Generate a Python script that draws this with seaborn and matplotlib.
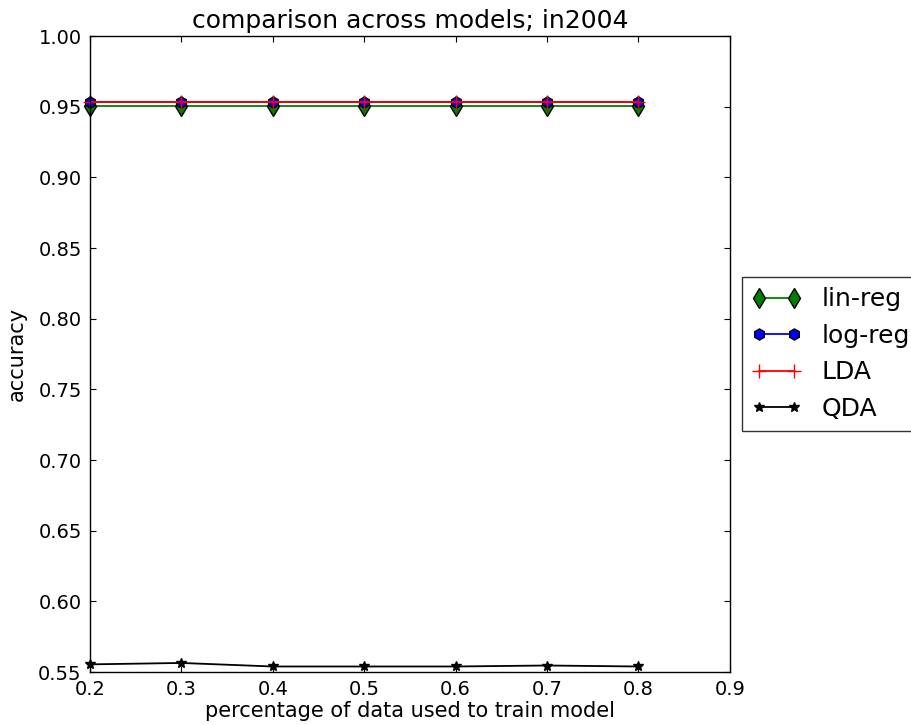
import matplotlib
matplotlib.use("Agg")
import matplotlib.pyplot as plt
import seaborn as sns
import pandas as pd

train_frac = [0.2, 0.3, 0.4, 0.5, 0.6, 0.7, 0.8]
lin_reg = [0.9505, 0.9505, 0.9505, 0.9505, 0.9505, 0.9505, 0.9505]
log_reg = [0.9535, 0.9535, 0.9535, 0.9535, 0.9535, 0.9535, 0.9535]
lda = [0.9535, 0.9535, 0.9535, 0.9535, 0.9535, 0.9535, 0.9535]
qda = [0.5554, 0.5564, 0.5539, 0.5539, 0.5539, 0.5546, 0.5539]
models = ["lin-reg", "log-reg", "LDA", "QDA"]
xticks = [0.2, 0.3, 0.4, 0.5, 0.6, 0.7, 0.8, 0.9]
yticks = [0.55, 0.60, 0.65, 0.70, 0.75, 0.80, 0.85, 0.90, 0.95, 1.00]

sns.set_style("white")
plt.rcParams.update({
    "font.family": ["DejaVu Sans"],
    "text.color": "black",
    "axes.labelcolor": "black",
    "xtick.color": "black",
    "ytick.color": "black",
    "xtick.direction": "in",
    "ytick.direction": "in",
    "xtick.top": True,
    "ytick.right": True,
    "xtick.bottom": True,
    "ytick.left": True,
    "xtick.major.size": 4,
    "ytick.major.size": 4,
    "axes.edgecolor": "black",
    "axes.linewidth": 1.0,
})

fig = plt.figure(figsize=(9.11, 7.25), dpi=100)
ax = fig.add_axes([0.0988, 0.0731, 0.7022, 0.8772])

series = {"lin-reg": lin_reg, "log-reg": log_reg, "LDA": lda, "QDA": qda}
colors = {"lin-reg": "green", "log-reg": "blue", "LDA": "red", "QDA": "black"}
mk = {"lin-reg": "d", "log-reg": "h", "LDA": "+", "QDA": "*"}
msize = {"lin-reg": 10, "log-reg": 8, "LDA": 10, "QDA": 7}

for m in models:
    df = pd.DataFrame({"x": train_frac, "y": series[m]})
    mec = "red" if m == "LDA" else "black"
    sns.lineplot(data=df, x="x", y="y", ax=ax, color=colors[m], marker=mk[m],
                 markersize=msize[m], markeredgecolor=mec, markerfacecolor=colors[m],
                 markeredgewidth=1.0, linewidth=1.3,
                 label=m, legend=False, clip_on=False)

ax.set_xlim(0.2, 0.9)
ax.set_ylim(0.55, 1.0)
ax.set_xticks(xticks)
ax.set_yticks(yticks)
ax.set_xticklabels([f"{v:.1f}" for v in xticks])
ax.set_yticklabels([f"{v:.2f}" for v in yticks])
ax.tick_params(labelsize=14, colors="black", pad=6)
ax.set_xlabel("percentage of data used to train model", fontsize=15, labelpad=1)
ax.set_ylabel("accuracy", fontsize=15, labelpad=8)
ax.set_title("comparison across models; in2004", fontsize=18, pad=6)

lines = ax.get_lines()
leg = ax.legend(lines[:4], models, numpoints=2, loc="center left",
                bbox_to_anchor=(1.019, 0.5), fontsize=18, frameon=True,
                fancybox=False, edgecolor="black", handlelength=2.0,
                borderaxespad=0.0)
leg.get_frame().set_linewidth(1.0)

fig.savefig("out.png", dpi=100, facecolor="white")
